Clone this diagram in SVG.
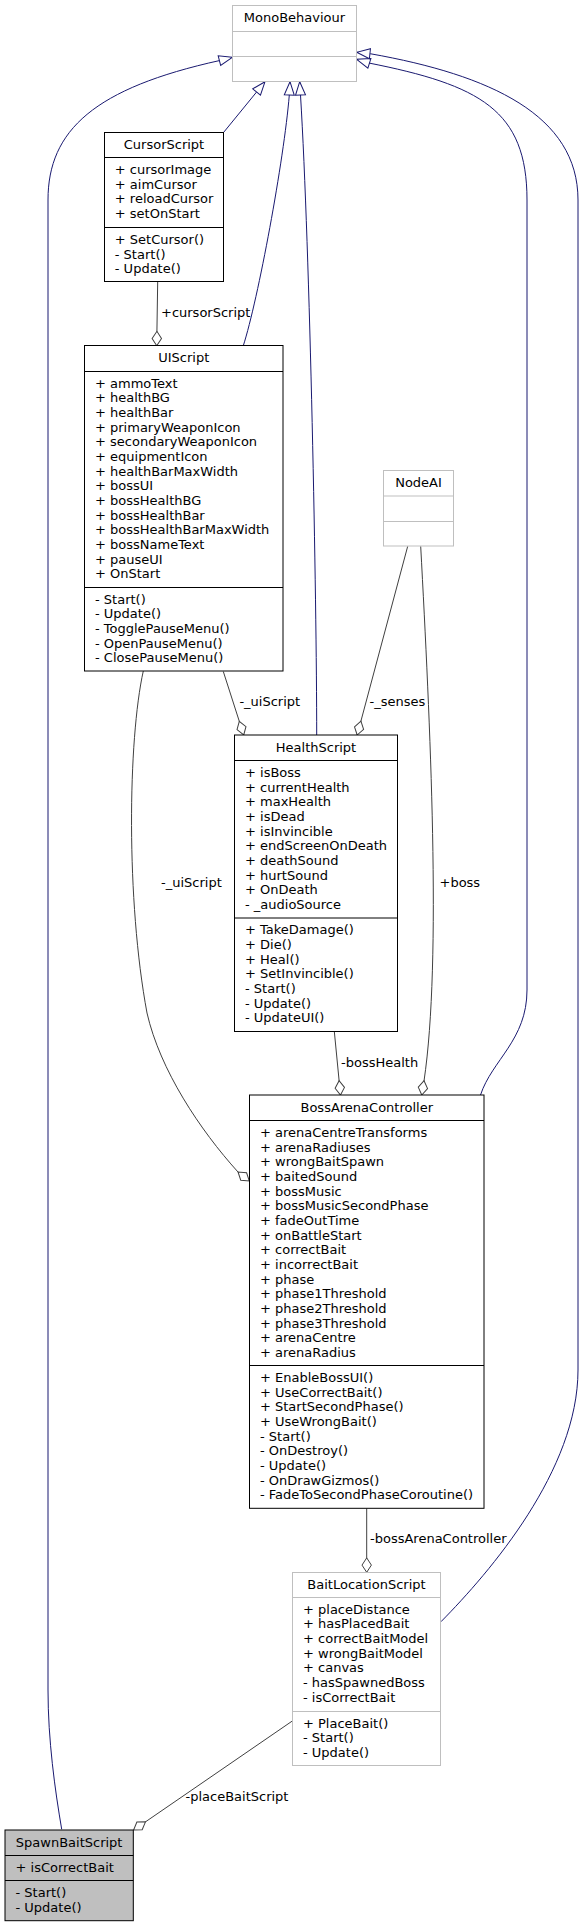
<svg xmlns="http://www.w3.org/2000/svg" width="584" height="1927" viewBox="0 0 584 1927">
<style>
.t{font-family:"DejaVu Sans",sans-serif;font-size:13px;fill:#000}
.c{text-anchor:middle}
.doc{fill:#fff;stroke:#000;stroke-width:1}
.undoc{fill:#fff;stroke:#bfbfbf;stroke-width:1}
.main{fill:#bfbfbf;stroke:#000;stroke-width:1}
.dl{stroke:#000;stroke-width:1}
.ul{stroke:#bfbfbf;stroke-width:1}
.inh{fill:none;stroke:#191970;stroke-width:1;marker-end:url(#tri)}
.agg{fill:none;stroke:#404040;stroke-width:1;marker-end:url(#dia)}
</style>
<defs>
<marker id="tri" markerUnits="userSpaceOnUse" markerWidth="16" markerHeight="14" viewBox="-15 -7 16 14" refX="0" refY="0" orient="auto" overflow="visible">
<path d="M0,0 L-13.3,-5 L-13.3,5 Z" fill="#fff" stroke="#191970" stroke-width="1"/>
</marker>
<marker id="dia" markerUnits="userSpaceOnUse" markerWidth="16" markerHeight="12" viewBox="-15 -6 16 12" refX="0" refY="0" orient="auto" overflow="visible">
<path d="M0,0 L-7.2,-4.7 L-14.4,0 L-7.2,4.7 Z" fill="#fff" stroke="#404040" stroke-width="1"/>
</marker>
</defs>
<rect width="584" height="1927" fill="#fff"/>

<g id="connectors">
<path class="inh" d="M223.7,132.3 L265,81.7"/>
<path class="inh" d="M243.3,345.7 C258,300 284,160 289.3,95 L290,81.7"/>
<path class="inh" d="M316.7,735 C316.7,600 310,250 300.5,95 L299.7,81.7"/>
<path class="inh" d="M480.5,1095 C492,1060 527,1040 527,990 L527,200 C527,110 480,85 367.8,62.8 L356.7,59.3"/>
<path class="inh" d="M441,1621.7 C490,1572 578,1470 578,1370 L578,200 C578,115 490,75 370.7,53.8 L356.7,52.3"/>
<path class="inh" d="M61.7,1829.3 C55,1790 48,1740 48,1690 L48,200 C48,130 95,88 219.8,60.5 L232.3,57.3"/>

<path class="agg" d="M157.7,281.7 L156.7,345.7"/>
<path class="agg" d="M223.3,671.5 L243.7,735"/>
<path class="agg" d="M407.7,546.3 L357.2,735"/>
<path class="agg" d="M420.7,546.3 C430,720 442,960 424,1081 L421.8,1095"/>
<path class="agg" d="M334.3,1031.3 L340.5,1095"/>
<path class="agg" d="M143.3,671 C128,740 126,900 147,1013 C160,1070 200,1130 238,1172 L249.3,1181"/>
<path class="agg" d="M366.7,1508.3 L366.7,1572.3"/>
<path class="agg" d="M292.3,1721 L133.6,1830"/>

<text class="t" x="161" y="317">+cursorScript</text>
<text class="t" x="239.4" y="706">-_uiScript</text>
<text class="t" x="369.5" y="706">-_senses</text>
<text class="t" x="439.5" y="887">+boss</text>
<text class="t" x="341" y="1066.5">-bossHealth</text>
<text class="t" x="161" y="886.5">-_uiScript</text>
<text class="t" x="370" y="1543.3">-bossArenaController</text>
<text class="t" x="185.5" y="1800.5">-placeBaitScript</text>
</g>

<g id="MonoBehaviour">
<rect class="undoc" x="232.5" y="5.5" width="124" height="76"/>
<line class="ul" x1="232.5" y1="31.5" x2="356.5" y2="31.5"/>
<line class="ul" x1="232.5" y1="56.5" x2="356.5" y2="56.5"/>
<text class="t c" x="294.5" y="22">MonoBehaviour</text>
</g>

<g id="CursorScript">
<rect class="doc" x="104.5" y="132.5" width="119" height="149"/>
<line class="dl" x1="104.5" y1="157.5" x2="223.5" y2="157.5"/>
<line class="dl" x1="104.5" y1="227.5" x2="223.5" y2="227.5"/>
<text class="t c" x="164" y="148.8">CursorScript</text>
<text class="t" x="114.8" y="174"><tspan x="114.8">+ cursorImage</tspan><tspan x="114.8" dy="14.67">+ aimCursor</tspan><tspan x="114.8" dy="14.67">+ reloadCursor</tspan><tspan x="114.8" dy="14.67">+ setOnStart</tspan></text>
<text class="t" x="114.8" y="244"><tspan x="114.8">+ SetCursor()</tspan><tspan x="114.8" dy="14.67">- Start()</tspan><tspan x="114.8" dy="14.67">- Update()</tspan></text>
</g>

<g id="UIScript">
<rect class="doc" x="84.5" y="345.5" width="198.5" height="325.5"/>
<line class="dl" x1="84.5" y1="371.5" x2="283" y2="371.5"/>
<line class="dl" x1="84.5" y1="587.5" x2="283" y2="587.5"/>
<text class="t c" x="183.75" y="362.2">UIScript</text>
<text class="t" x="95" y="387.6"><tspan x="95">+ ammoText</tspan><tspan x="95" dy="14.67">+ healthBG</tspan><tspan x="95" dy="14.67">+ healthBar</tspan><tspan x="95" dy="14.67">+ primaryWeaponIcon</tspan><tspan x="95" dy="14.67">+ secondaryWeaponIcon</tspan><tspan x="95" dy="14.67">+ equipmentIcon</tspan><tspan x="95" dy="14.67">+ healthBarMaxWidth</tspan><tspan x="95" dy="14.67">+ bossUI</tspan><tspan x="95" dy="14.67">+ bossHealthBG</tspan><tspan x="95" dy="14.67">+ bossHealthBar</tspan><tspan x="95" dy="14.67">+ bossHealthBarMaxWidth</tspan><tspan x="95" dy="14.67">+ bossNameText</tspan><tspan x="95" dy="14.67">+ pauseUI</tspan><tspan x="95" dy="14.67">+ OnStart</tspan></text>
<text class="t" x="95" y="603.6"><tspan x="95">- Start()</tspan><tspan x="95" dy="14.67">- Update()</tspan><tspan x="95" dy="14.67">- TogglePauseMenu()</tspan><tspan x="95" dy="14.67">- OpenPauseMenu()</tspan><tspan x="95" dy="14.67">- ClosePauseMenu()</tspan></text>
</g>

<g id="NodeAI">
<rect class="undoc" x="383.5" y="470.5" width="70" height="75.5"/>
<line class="ul" x1="383.5" y1="496" x2="453.5" y2="496"/>
<line class="ul" x1="383.5" y1="521.5" x2="453.5" y2="521.5"/>
<text class="t c" x="418.5" y="486.8">NodeAI</text>
</g>

<g id="HealthScript">
<rect class="doc" x="234.5" y="735" width="163" height="296.5"/>
<line class="dl" x1="234.5" y1="760.5" x2="397.5" y2="760.5"/>
<line class="dl" x1="234.5" y1="918" x2="397.5" y2="918"/>
<text class="t c" x="316" y="751.5">HealthScript</text>
<text class="t" x="245" y="777"><tspan x="245">+ isBoss</tspan><tspan x="245" dy="14.67">+ currentHealth</tspan><tspan x="245" dy="14.67">+ maxHealth</tspan><tspan x="245" dy="14.67">+ isDead</tspan><tspan x="245" dy="14.67">+ isInvincible</tspan><tspan x="245" dy="14.67">+ endScreenOnDeath</tspan><tspan x="245" dy="14.67">+ deathSound</tspan><tspan x="245" dy="14.67">+ hurtSound</tspan><tspan x="245" dy="14.67">+ OnDeath</tspan><tspan x="245" dy="14.67">- _audioSource</tspan></text>
<text class="t" x="245" y="934.3"><tspan x="245">+ TakeDamage()</tspan><tspan x="245" dy="14.67">+ Die()</tspan><tspan x="245" dy="14.67">+ Heal()</tspan><tspan x="245" dy="14.67">+ SetInvincible()</tspan><tspan x="245" dy="14.67">- Start()</tspan><tspan x="245" dy="14.67">- Update()</tspan><tspan x="245" dy="14.67">- UpdateUI()</tspan></text>
</g>

<g id="BossArenaController">
<rect class="doc" x="249.5" y="1095" width="234.5" height="413.3"/>
<line class="dl" x1="249.5" y1="1120.5" x2="484" y2="1120.5"/>
<line class="dl" x1="249.5" y1="1365.5" x2="484" y2="1365.5"/>
<text class="t c" x="366.75" y="1111.5">BossArenaController</text>
<text class="t" x="260" y="1137"><tspan x="260">+ arenaCentreTransforms</tspan><tspan x="260" dy="14.67">+ arenaRadiuses</tspan><tspan x="260" dy="14.67">+ wrongBaitSpawn</tspan><tspan x="260" dy="14.67">+ baitedSound</tspan><tspan x="260" dy="14.67">+ bossMusic</tspan><tspan x="260" dy="14.67">+ bossMusicSecondPhase</tspan><tspan x="260" dy="14.67">+ fadeOutTime</tspan><tspan x="260" dy="14.67">+ onBattleStart</tspan><tspan x="260" dy="14.67">+ correctBait</tspan><tspan x="260" dy="14.67">+ incorrectBait</tspan><tspan x="260" dy="14.67">+ phase</tspan><tspan x="260" dy="14.67">+ phase1Threshold</tspan><tspan x="260" dy="14.67">+ phase2Threshold</tspan><tspan x="260" dy="14.67">+ phase3Threshold</tspan><tspan x="260" dy="14.67">+ arenaCentre</tspan><tspan x="260" dy="14.67">+ arenaRadius</tspan></text>
<text class="t" x="260" y="1382"><tspan x="260">+ EnableBossUI()</tspan><tspan x="260" dy="14.67">+ UseCorrectBait()</tspan><tspan x="260" dy="14.67">+ StartSecondPhase()</tspan><tspan x="260" dy="14.67">+ UseWrongBait()</tspan><tspan x="260" dy="14.67">- Start()</tspan><tspan x="260" dy="14.67">- OnDestroy()</tspan><tspan x="260" dy="14.67">- Update()</tspan><tspan x="260" dy="14.67">- OnDrawGizmos()</tspan><tspan x="260" dy="14.67">- FadeToSecondPhaseCoroutine()</tspan></text>
</g>

<g id="BaitLocationScript">
<rect class="undoc" x="292.5" y="1572.5" width="148" height="193"/>
<line class="ul" x1="292.5" y1="1597.5" x2="440.5" y2="1597.5"/>
<line class="ul" x1="292.5" y1="1711.5" x2="440.5" y2="1711.5"/>
<text class="t c" x="366.5" y="1588.8">BaitLocationScript</text>
<text class="t" x="303" y="1613.6"><tspan x="303">+ placeDistance</tspan><tspan x="303" dy="14.67">+ hasPlacedBait</tspan><tspan x="303" dy="14.67">+ correctBaitModel</tspan><tspan x="303" dy="14.67">+ wrongBaitModel</tspan><tspan x="303" dy="14.67">+ canvas</tspan><tspan x="303" dy="14.67">- hasSpawnedBoss</tspan><tspan x="303" dy="14.67">- isCorrectBait</tspan></text>
<text class="t" x="303" y="1727.6"><tspan x="303">+ PlaceBait()</tspan><tspan x="303" dy="14.67">- Start()</tspan><tspan x="303" dy="14.67">- Update()</tspan></text>
</g>

<g id="SpawnBaitScript">
<rect class="main" x="5" y="1830" width="128.3" height="90.7"/>
<line class="dl" x1="5" y1="1855.5" x2="133.3" y2="1855.5"/>
<line class="dl" x1="5" y1="1880.5" x2="133.3" y2="1880.5"/>
<text class="t c" x="69.15" y="1846.5">SpawnBaitScript</text>
<text class="t" x="15.5" y="1871.6">+ isCorrectBait</text>
<text class="t" x="15.5" y="1897"><tspan x="15.5">- Start()</tspan><tspan x="15.5" dy="14.67">- Update()</tspan></text>
</g>
</svg>
